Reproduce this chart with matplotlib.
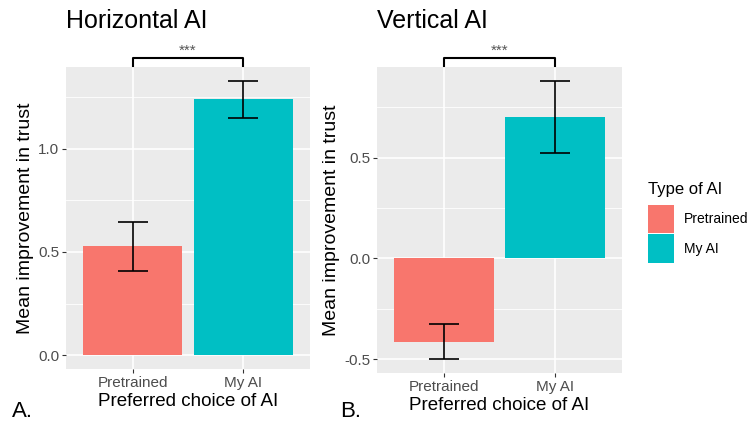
import matplotlib.pyplot as plt
import matplotlib.transforms as mtransforms
from matplotlib.patches import Patch
import numpy as np

plt.rcParams['font.family'] = ['Liberation Sans', 'DejaVu Sans']

# data
categories = ['Pretrained', 'My AI']
colors = ['#F8766D', '#00BFC4']

horiz_mean = [0.527, 1.242]
horiz_low = [0.406, 1.150]
horiz_high = [0.647, 1.329]

vert_mean = [-0.416, 0.703]
vert_low = [-0.500, 0.525]
vert_high = [-0.327, 0.881]

panels = [
    ('Horizontal AI', 'A.', horiz_mean, horiz_low, horiz_high, [0.0, 0.5, 1.0], [0.25, 0.75, 1.25]),
    ('Vertical AI', 'B.', vert_mean, vert_low, vert_high, [-0.5, 0.0, 0.5], [-0.25, 0.25, 0.75]),
]

fig = plt.figure(figsize=(7.48, 4.24), dpi=100)
W, H = 748, 424
boxes = [(66, 310, 67, 369), (377, 622, 67, 373)]

for (title, tag, mean, low, high, yticks, yminor), (x0, x1, y0, y1) in zip(panels, boxes):
    ax = fig.add_axes([x0 / W, 1 - y1 / H, (x1 - x0) / W, (y1 - y0) / H])
    ax.set_facecolor('#EBEBEB')
    x = np.arange(len(categories))
    mean = np.array(mean)
    low = np.array(low)
    high = np.array(high)

    ax.bar(x, mean, width=0.9, color=colors, zorder=2)
    ax.errorbar(x, mean, yerr=[mean - low, high - mean], fmt='none',
                ecolor='black', elinewidth=1.2, capsize=11, capthick=1.2, zorder=3)

    lo = min(low.min(), 0)
    hi = max(high.max(), 0)
    pad = (hi - lo) * 0.05
    ax.set_ylim(lo - pad, hi + pad)
    ax.set_xlim(-0.6, len(categories) - 0.4)

    ax.set_yticks(yticks)
    ax.set_yticklabels([f'{v:.1f}' for v in yticks])
    ax.set_yticks(yminor, minor=True)
    ax.set_xticks(x)
    ax.set_xticklabels(categories)
    ax.grid(True, which='major', color='white', linewidth=1.2, zorder=0)
    ax.grid(True, which='minor', axis='y', color='white', linewidth=0.6, zorder=0)
    ax.set_axisbelow(True)
    ax.tick_params(which='major', length=3, width=0.8, color='#333333',
                   labelcolor='#4D4D4D', labelsize=11, pad=2)
    ax.tick_params(which='minor', length=0)
    for s in ax.spines.values():
        s.set_visible(False)

    ax.set_ylabel('Mean improvement in trust', fontsize=14, labelpad=3)
    ax.set_xlabel('Preferred choice of AI', fontsize=13.5, labelpad=2)

    # significance bracket
    tr = mtransforms.blended_transform_factory(ax.transData, ax.transAxes)
    ax.plot([x[0], x[0], x[1], x[1]], [1.003, 1.03, 1.03, 1.003], color='black',
            linewidth=1.5, transform=tr, clip_on=False)
    ax.text((x[0] + x[1]) / 2, 1.041, '***', transform=tr, ha='center', va='baseline',
            fontsize=11, color='#555555')

    fig.text(x0 / W, 1 - 28 / H, title, fontsize=18, ha='left', va='baseline')
    fig.text((x0 - 54) / W if tag == 'A.' else (x0 - 37) / W, 1 - 417 / H, tag,
             fontsize=16, ha='left', va='baseline')

# legend: title placed separately so the gap to the keys matches
fig.text(648 / W, 1 - 194 / H, 'Type of AI', fontsize=12, ha='left', va='baseline')
handles = [Patch(facecolor=c, edgecolor='none') for c in colors]
leg = fig.legend(handles, categories, loc='upper left',
                 bbox_to_anchor=(648 / W, 1 - 205 / H), frameon=False, fontsize=10,
                 handlelength=1.87, handleheight=2.75,
                 labelspacing=0.08, handletextpad=0.7, borderpad=0, borderaxespad=0)

fig.savefig('out.png', dpi=100)
